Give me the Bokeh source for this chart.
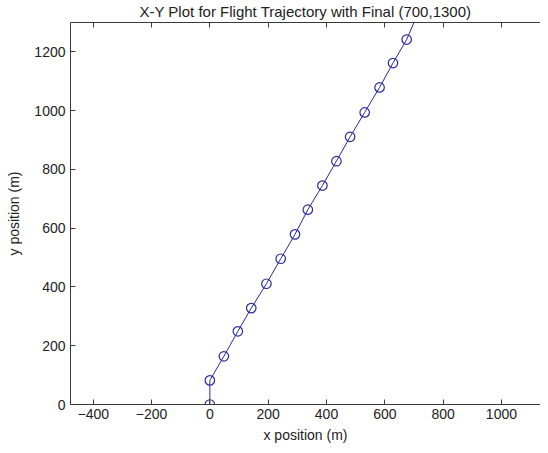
from bokeh.plotting import figure
from bokeh.models import LinearAxis, FixedTicker, Range1d, CustomJSTickFormatter
from bokeh.embed import file_html
from bokeh.resources import INLINE

# data
x_marks = [0, 0, 48, 96, 142, 194, 243, 292, 336, 386, 434, 481, 531, 582, 628, 675]
y_marks = [0, 82, 164, 249, 328, 411, 496, 579, 663, 745, 828, 911, 994, 1079, 1162, 1242]
x_final = 700
y_final = 1300
x_ticks = [-400, -200, 0, 200, 400, 600, 800, 1000]
y_ticks = [0, 200, 400, 600, 800, 1000, 1200]

x_line = x_marks + [x_final]
y_line = y_marks + [y_final]

FONT = "Liberation Sans"
AX = "#3a3a3a"
BLUE = "#2a2a9c"
TXT = "#222222"

p = figure(width=540, height=445, output_backend="svg", toolbar_location=None,
           x_range=Range1d(-478, 1134), y_range=Range1d(0, 1300),
           title="X-Y Plot for Flight Trajectory with Final (700,1300)",
           min_border_left=70, min_border_right=0, min_border_top=22,
           min_border_bottom=41)
p.outline_line_color = None
p.grid.visible = False
p.background_fill_color = "white"
p.border_fill_color = "white"

p.title.align = "center"
p.title.vertical_align = "top"
p.title.text_font = FONT
p.title.text_font_size = "15px"
p.title.text_font_style = "normal"
p.title.text_color = TXT
p.title.standoff = 2
p.title.offset = 0

for ax in (p.xaxis[0], p.yaxis[0]):
    ax.major_tick_in = 5
    ax.major_tick_out = 0
    ax.minor_tick_line_color = None
    ax.axis_line_color = AX
    ax.major_tick_line_color = AX
    ax.major_label_text_font = FONT
    ax.major_label_text_font_size = "14px"
    ax.major_label_text_color = TXT
    ax.axis_label_text_font = FONT
    ax.axis_label_text_font_size = "14px"
    ax.axis_label_text_font_style = "normal"
    ax.axis_label_text_color = TXT

p.xaxis[0].ticker = FixedTicker(ticks=x_ticks)
p.yaxis[0].ticker = FixedTicker(ticks=y_ticks)
p.xaxis[0].axis_label = "x position (m)"
p.yaxis[0].axis_label = "y position (m)"
p.xaxis[0].major_label_standoff = 4
p.yaxis[0].major_label_standoff = 5
p.xaxis[0].axis_label_standoff = 5
p.yaxis[0].axis_label_standoff = 9

top = LinearAxis(ticker=FixedTicker(ticks=x_ticks),
                 formatter=CustomJSTickFormatter(code="return ''"))
top.major_tick_in = 5
top.major_tick_out = 0
top.minor_tick_line_color = None
top.axis_line_color = AX
top.major_tick_line_color = AX
top.major_label_text_font_size = "1px"
top.major_label_standoff = 0
p.add_layout(top, "above")

p.line(x_line, y_line, line_color=BLUE, line_width=1)
p.scatter(x_marks, y_marks, marker="circle", size=9.5, fill_color=None,
          line_color=BLUE, line_width=1.2)

open("out.html", "w").write(file_html(p, INLINE))
